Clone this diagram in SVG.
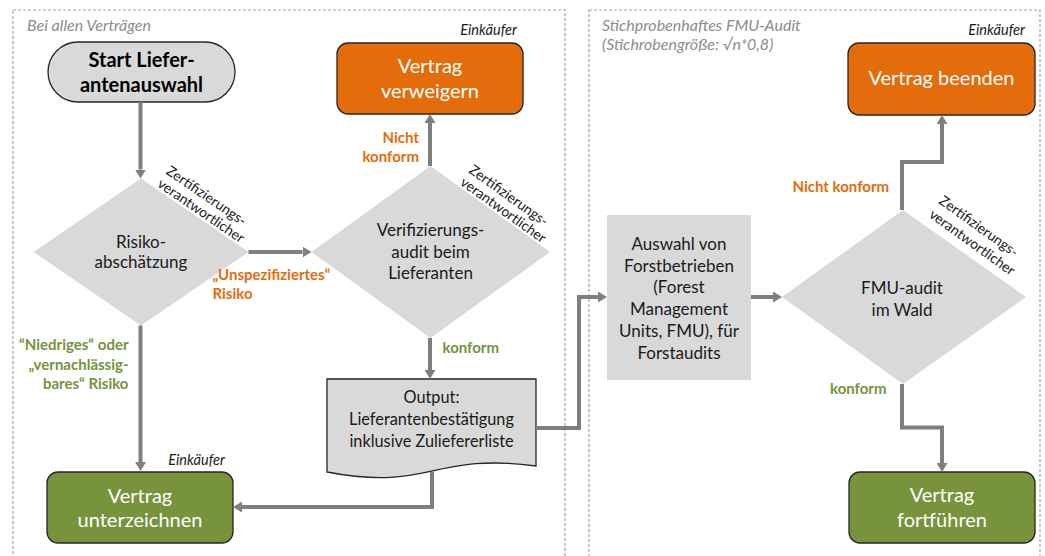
<svg xmlns="http://www.w3.org/2000/svg" width="1045" height="556" viewBox="0 0 1045 556">
<defs>
<marker id="ah" markerUnits="userSpaceOnUse" markerWidth="9" markerHeight="11" refX="0" refY="5.5" orient="auto" viewBox="0 0 9 11">
<path d="M0,0 L9,5.5 L0,11 z" fill="#7f7f7f"/>
</marker>
<style>
text{font-family:Lato,"Open Sans","Liberation Sans",sans-serif;}
.panel{fill:none;stroke:#a6a6a6;stroke-width:1.2;stroke-dasharray:3 2;}
.ptitle{font-style:italic;font-size:16px;fill:#8c8c8c;}
.gray{fill:#d9d9d9;}
.box{stroke:#262626;stroke-width:1.3;}
.orange{fill:#e46c0a;}
.green{fill:#77933c;}
.wt{fill:#ffffff;font-size:20px;text-anchor:middle;}
.bt{fill:#1a1a1a;font-size:17px;text-anchor:middle;}
.dt{fill:#1a1a1a;font-size:16.3px;text-anchor:middle;}
.role{font-style:italic;font-size:14.5px;fill:#1a1a1a;text-anchor:end;}
.rot{font-size:14px;fill:#1a1a1a;}
.lo{font-weight:bold;font-size:15px;fill:#e46c0a;}
.lg{font-weight:bold;font-size:15px;fill:#77933c;}
.conn path{fill:none;stroke:#7f7f7f;stroke-width:4;marker-end:url(#ah);}
</style>
</defs>
<rect width="1045" height="556" fill="#ffffff"/>

<g id="panel-left">
<rect class="panel" x="13" y="10" width="552" height="560"/>
<text class="ptitle" x="27" y="31">Bei allen Verträgen</text>
</g>
<g id="panel-right">
<rect class="panel" x="589" y="10" width="451" height="560"/>
<text class="ptitle" x="602" y="31">Stichprobenhaftes FMU-Audit</text>
<text class="ptitle" x="602" y="50">(Stichrobengröße: √n*0,8)</text>
</g>

<g id="start">
<rect class="gray box" x="48" y="42" width="187" height="60" rx="30" ry="30"/>
<text x="141.5" y="67" font-size="20" font-weight="bold" fill="#000" text-anchor="middle">Start Liefer-</text>
<text x="141.5" y="92" font-size="20" font-weight="bold" fill="#000" text-anchor="middle">antenauswahl</text>
</g>

<g id="risiko">
<polygon class="gray" points="141,178.5 248.5,252 141,325.5 33.5,252"/>
<text class="bt" x="141" y="247.5">Risiko-</text>
<text class="bt" x="141" y="268">abschätzung</text>
<g transform="translate(141,178.5) rotate(34.4)">
<text class="rot" x="17" y="-18">Zertifizierungs-</text>
<text class="rot" x="17" y="-2.5">verantwortlicher</text>
</g>
</g>

<g id="verif">
<polygon class="gray" points="430.5,166 550,252 430.5,338 311.5,252"/>
<text class="bt" x="430.5" y="236">Verifizierungs-</text>
<text class="bt" x="430.5" y="257.5">audit beim</text>
<text class="bt" x="430.5" y="279">Lieferanten</text>
<g transform="translate(430.5,166) rotate(35.7)">
<text class="rot" x="34" y="-17">Zertifizierungs-</text>
<text class="rot" x="34" y="-2">verantwortlicher</text>
</g>
</g>

<g id="verweigern">
<text class="role" x="517" y="35">Einkäufer</text>
<rect class="orange box" x="337" y="43" width="186" height="71" rx="11" ry="11"/>
<text class="wt" x="430" y="73">Vertrag</text>
<text class="wt" x="430" y="98">verweigern</text>
</g>

<g id="output">
<path class="gray box" d="M327,379 H536 V466 C431,452 431,492 327,472 Z"/>
<text class="dt" x="431.5" y="403">Output:</text>
<text class="dt" x="431.5" y="425">Lieferantenbestätigung</text>
<text class="dt" x="431.5" y="447">inklusive Zuliefererliste</text>
</g>

<g id="unterzeichnen">
<text class="role" x="225" y="465">Einkäufer</text>
<rect class="green box" x="47" y="472" width="186" height="71" rx="11" ry="11"/>
<text class="wt" x="140" y="503">Vertrag</text>
<text class="wt" x="140" y="527">unterzeichnen</text>
</g>

<g id="auswahl">
<rect class="gray" x="607" y="215" width="144" height="165"/>
<text class="bt" x="679" y="250">Auswahl von</text>
<text class="bt" x="679" y="271.7">Forstbetrieben</text>
<text class="bt" x="679" y="293.4">(Forest</text>
<text class="bt" x="679" y="315.1">Management</text>
<text class="bt" x="679" y="336.8">Units, FMU), für</text>
<text class="bt" x="679" y="358.5">Forstaudits</text>
</g>

<g id="fmu">
<polygon class="gray" points="903,210 1026,297 903,384 782,297"/>
<text class="bt" x="902" y="294">FMU-audit</text>
<text class="bt" x="902" y="315.5">im Wald</text>
<g transform="translate(902,210) rotate(35.8)">
<text class="rot" x="25" y="-27">Zertifizierungs-</text>
<text class="rot" x="25" y="-10">verantwortlicher</text>
</g>
</g>

<g id="beenden">
<text class="role" x="1025" y="35">Einkäufer</text>
<rect class="orange box" x="848" y="43" width="187" height="72" rx="11" ry="11"/>
<text class="wt" x="941.5" y="85">Vertrag beenden</text>
</g>

<g id="fortfuehren">
<rect class="green box" x="849" y="472" width="186" height="71" rx="11" ry="11"/>
<text class="wt" x="942" y="502">Vertrag</text>
<text class="wt" x="942" y="527">fortführen</text>
</g>

<g id="connectors" class="conn">
<path d="M140.5,102 V169.5"/>
<path d="M248.5,252 H302.5"/>
<path d="M430,166 V123"/>
<path d="M430,338 V370"/>
<path d="M140.5,325.5 V462"/>
<path d="M432,472 V507 H242"/>
<path d="M536,428 H579 V297 H598"/>
<path d="M751,297 H773"/>
<path d="M902,210 V162 H942 V124"/>
<path d="M902,384 V427.5 H942 V463"/>
</g>

<g id="labels">
<text class="lo" x="419" y="143" text-anchor="end">Nicht</text>
<text class="lo" x="419" y="162" text-anchor="end">konform</text>
<text class="lg" x="442.5" y="353">konform</text>
<text class="lo" x="212.5" y="280">„Unspezifiziertes“</text>
<text class="lo" x="212.5" y="298.5">Risiko</text>
<text class="lg" x="128.5" y="350" text-anchor="end">“Niedriges“ oder</text>
<text class="lg" x="128.5" y="369.5" text-anchor="end">„vernachlässig-</text>
<text class="lg" x="128.5" y="389" text-anchor="end">bares“ Risiko</text>
<text class="lo" x="792.5" y="192">Nicht konform</text>
<text class="lg" x="830" y="393.5">konform</text>
</g>
</svg>
